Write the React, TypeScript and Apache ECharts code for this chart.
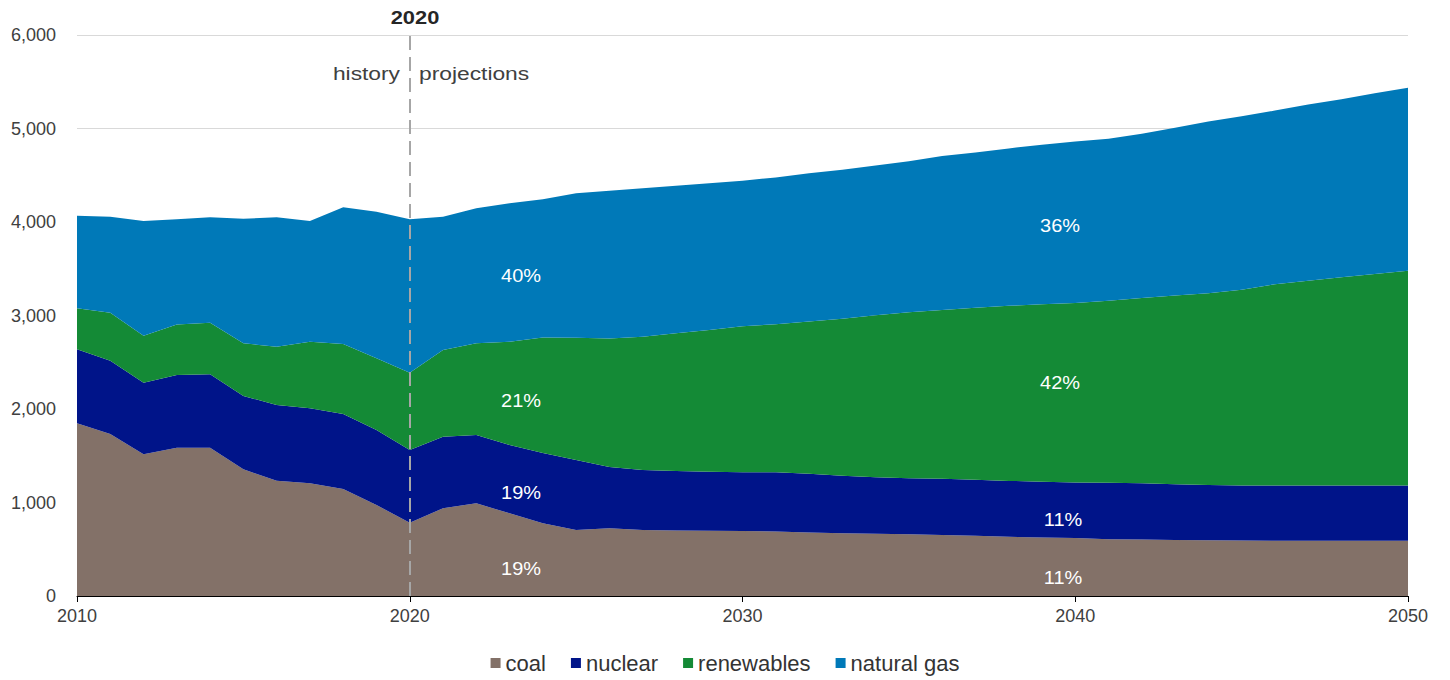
import React, { useEffect, useRef } from "react";
import * as echarts from "echarts";

const years: string[] = [];
for (let y = 2010; y <= 2050; y++) years.push(String(y));

const coal = [1847, 1733, 1515, 1586, 1586, 1355, 1233, 1205, 1144, 973, 784,
  938, 991, 884, 777, 706, 724, 706, 700, 698, 696,
  689, 678, 671, 667, 660, 652, 645, 634, 626, 619,
  608, 604, 600, 597, 593, 590, 590, 590, 590, 590];
const nuclear = [791, 784, 766, 778, 785, 784, 810, 802, 803, 802, 777,
  766, 731, 731, 752, 748, 656, 641, 637, 632, 627,
  634, 630, 615, 604, 600, 601, 597, 597, 597, 595,
  604, 601, 594, 590, 590, 593, 593, 593, 593, 593];
const renewables = [439, 513, 503, 541, 552, 563, 624, 713, 748, 767, 827,
  927, 981, 1105, 1237, 1308, 1375, 1426, 1472, 1515, 1562,
  1584, 1629, 1680, 1732, 1776, 1806, 1842, 1872, 1898, 1921,
  1946, 1982, 2019, 2052, 2093, 2152, 2189, 2226, 2262, 2296];
const naturalGas = [990, 1027, 1227, 1124, 1127, 1333, 1383, 1291, 1462, 1568, 1641,
  1426, 1443, 1480, 1477, 1545, 1580, 1587, 1579, 1569, 1555,
  1570, 1584, 1592, 1600, 1614, 1647, 1659, 1684, 1706, 1725,
  1732, 1758, 1795, 1835, 1854, 1857, 1886, 1905, 1931, 1956];

const seriesNames = ["coal", "nuclear", "renewables", "natural gas"];
const seriesColors = ["#837168", "#001489", "#148a36", "#0079b8"];
const shares2020 = ["19%", "19%", "21%", "40%"];
const shares2050 = ["11%", "11%", "42%", "36%"];

const FONT = "'Liberation Sans', Arial, sans-serif";

export default function App() {
  const ref = useRef<HTMLDivElement>(null);
  useEffect(() => {
    document.body.style.margin = "0";
    const chart = echarts.init(ref.current!, null, { renderer: "svg" });
    const data = [coal, nuclear, renewables, naturalGas];
    const pctText = (x: number, y: number, t: string) => ({
      type: "text",
      x,
      y,
      scaleX: 1.05,
      style: {
        text: t,
        fill: "#ffffff",
        font: `19px ${FONT}`,
        textAlign: "center",
        textVerticalAlign: "middle",
      },
      z: 100,
    });
    const option: any = {
      animation: false,
      textStyle: { fontFamily: FONT },
      grid: { left: 77, right: 42, top: 35, bottom: 84, containLabel: false },
      legend: {
        bottom: 1,
        left: "center",
        icon: "rect",
        itemWidth: 10,
        itemHeight: 10,
        itemGap: 25,
        textStyle: { fontSize: 22, color: "#333333", fontFamily: FONT },
        data: seriesNames,
      },
      xAxis: {
        type: "category",
        data: years,
        boundaryGap: false,
        axisLine: { lineStyle: { color: "#000000", width: 1 } },
        axisTick: {
          length: 6,
          interval: (i: number) => i % 10 === 0,
          lineStyle: { color: "#000000" },
        },
        axisLabel: {
          interval: (i: number) => i % 10 === 0,
          fontSize: 18,
          color: "#404040",
          margin: 11,
          fontFamily: FONT,
        },
        splitLine: { show: false },
      },
      yAxis: {
        type: "value",
        min: 0,
        max: 6000,
        interval: 1000,
        axisLine: { show: false },
        axisTick: { show: false },
        axisLabel: {
          fontSize: 18,
          color: "#404040",
          margin: 21,
          fontFamily: FONT,
          formatter: (v: number) => v.toLocaleString("en-US"),
        },
        splitLine: { lineStyle: { color: "#d9d9d9", width: 1 } },
      },
      series: seriesNames.map((name, i) => ({
        name,
        type: "line",
        stack: "total",
        data: data[i],
        showSymbol: false,
        symbol: "none",
        lineStyle: { width: 0 },
        areaStyle: { color: seriesColors[i], opacity: 1 },
        itemStyle: { color: seriesColors[i] },
        emphasis: { disabled: true },
        markLine:
          i === seriesNames.length - 1
            ? {
                silent: true,
                symbol: "none",
                label: { show: false },
                lineStyle: { color: "#a6a6a6", type: [14, 7], width: 2 },
                data: [{ xAxis: "2020" }],
              }
            : undefined,
      })),
      graphic: [
        {
          type: "text",
          x: 415,
          y: 17,
          scaleX: 1.15,
          style: {
            text: "2020",
            fill: "#262626",
            font: `bold 19px ${FONT}`,
            textAlign: "center",
            textVerticalAlign: "middle",
          },
        },
        {
          type: "text",
          x: 400,
          y: 73,
          scaleX: 1.2,
          style: {
            text: "history",
            fill: "#404040",
            font: `19px ${FONT}`,
            textAlign: "right",
            textVerticalAlign: "middle",
          },
        },
        {
          type: "text",
          x: 419,
          y: 73,
          scaleX: 1.2,
          style: {
            text: "projections",
            fill: "#404040",
            font: `19px ${FONT}`,
            textAlign: "left",
            textVerticalAlign: "middle",
          },
        },
        pctText(521, 568, shares2020[0]),
        pctText(521, 492, shares2020[1]),
        pctText(521, 400, shares2020[2]),
        pctText(521, 275, shares2020[3]),
        pctText(1063, 577, shares2050[0]),
        pctText(1063, 519, shares2050[1]),
        pctText(1060, 382, shares2050[2]),
        pctText(1060, 225, shares2050[3]),
      ],
    };
    chart.setOption(option);
    return () => chart.dispose();
  }, []);
  return (
    <div
      ref={ref}
      style={{ position: "absolute", left: 0, top: 0, width: 1450, height: 680 }}
    />
  );
}
